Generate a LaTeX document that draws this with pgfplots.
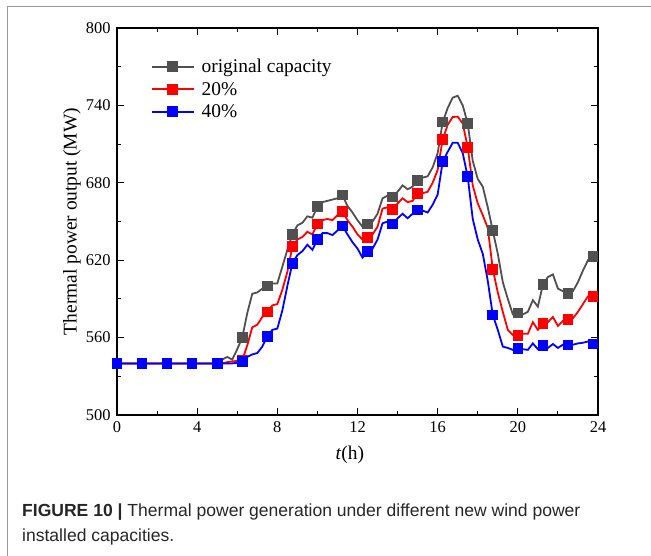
\documentclass[border=0pt]{standalone}
\usepackage{fontspec}
\setmainfont{Liberation Serif}
\newfontfamily\capfont{Liberation Sans}
\usepackage{pgfplots}
\usepackage{pgfplotstable}
\pgfplotsset{compat=1.18}
\definecolor{cgray}{RGB}{80,80,80}
\definecolor{cred}{RGB}{255,0,0}
\definecolor{cblue}{RGB}{0,0,255}
\pgfplotstableread{
t orig p20 p40
0 540 540 540
0.25 540 540 540
0.5 540 540 540
0.75 540 540 540
1.0 540 540 540
1.25 540 540 540
1.5 540 540 540
1.75 540 540 540
2.0 540 540 540
2.25 540 540 540
2.5 540 540 540
2.75 540 540 540
3.0 540 540 540
3.25 540 540 540
3.5 540 540 540
3.75 540 540 540
4.0 540 540 540
4.25 540 540 540
4.5 540 540 540
4.75 540 540 540
5.0 540 540 540
5.25 543 540 540
5.5 545 541 540
5.75 543 541.5 540
6.0 551 542 540.5
6.25 560 542.6 541.3
6.5 579 554 545
6.75 594 568 547
7.0 595 570 548
7.25 598 576 553
7.5 600 580 561
7.75 602 585 566
8.0 602 586 567
8.25 615 597 581
8.5 628 611 600
8.75 640 630.5 617.6
9.0 647 636 624
9.25 649 638 627
9.5 654 642 632
9.75 653 640 628
10.0 661.5 648 636
10.25 665 651 641
10.5 666 652 641
10.75 667 651 639.5
11.0 668 655 643
11.25 670.5 657.6 646.5
11.5 662 651 640
11.75 657 646 634
12.0 651 640 629
12.25 646 636 622
12.5 648 637.7 626.6
12.75 650 640 629
13.0 656 646 636
13.25 668 660 648.6
13.5 670 661 650
13.75 669 659.4 648
14.0 673 664 652.5
14.25 678 668 656
14.5 675 665 652.5
14.75 677 666 656
15.0 682 671.8 659
15.25 684 672 658.4
15.5 685 673 657
15.75 692 680 663
16.0 703 690 671
16.25 727 713.7 696.4
16.5 738 725 704
16.75 746 731 711
17.0 747.5 731.3 711
17.25 740 726 703
17.5 726 707.5 684.7
17.75 697 678 652
18.0 683 664 636
18.25 677 655 625
18.5 661 645 604
18.75 643 613 577.5
19.0 625 595 566
19.25 603 580 553
19.5 590 566 552
19.75 578 562 550.5
20.0 579 561.8 551.4
20.25 578 563 551
20.5 580 563 550.5
20.75 589 572 555.5
21.0 584 566 551
21.25 601 571 553.7
21.5 607 572 552
21.75 609 576 555
22.0 598 569 552
22.25 596 573 554.5
22.5 594 574.2 554.3
22.75 596 575 554.5
23.0 603 580 555.5
23.25 612 586 556
23.5 620 592 557
23.75 623 591.7 555
}\datatable
\begin{document}
\begin{tikzpicture}
\path[use as bounding box] (0,0) rectangle (651bp,-556bp);
\draw[line width=0.9bp, color=black!40] (7bp,-556bp) -- (7bp,-6bp) -- (651bp,-6bp);
\begin{axis}[
  at={(117bp,-415bp)}, anchor=south west,
  scale only axis, width=481bp, height=387bp,
  xmin=0, xmax=24, ymin=500, ymax=800,
  xtick={0,4,...,24}, ytick={500,560,...,800},
  minor x tick num=1, minor y tick num=1,
  tick align=inside, major tick length=7bp, minor tick length=4bp,
  axis line style={line width=1.3bp},
  every tick/.style={line width=1.1bp, black},
  /pgf/number format/assume math mode=true,
  /pgf/number format/1000 sep={},
  tick label style={font=\fontsize{16.5}{19}\selectfont},
  xticklabel style={yshift=-3bp},
  yticklabel style={xshift=-3bp},
  every axis x label/.style={at={(axis description cs:0.484,-0.103)}, anchor=center},
  every axis y label/.style={at={(axis description cs:-0.0936,0.5)}, rotate=90, anchor=center},
  label style={font=\fontsize{19.5}{23}\selectfont},
  xlabel={\textit{t}(h)},
  ylabel={Thermal power output (MW)},
  legend style={at={(rel axis cs:0.07,0.925)}, anchor=north west, draw=none, fill=none,
    font=\fontsize{19.5}{23}\selectfont, row sep=4bp, inner sep=0bp,
    /tikz/every odd column/.append style={column sep=5bp}},
  legend cell align=left,
  legend image code/.code={\draw[mark repeat=2,mark phase=2] plot coordinates {(0bp,0bp) (21bp,0bp) (42bp,0bp)};},
]
\addplot[color=cgray, line width=1.8bp, mark=square*, mark size=4.8bp, mark repeat=5, mark options={fill=cgray, draw=cgray, line width=0pt}] table[x=t, y=orig] {\datatable};
\addlegendentry{original capacity}
\addplot[color=cred, line width=1.8bp, mark=square*, mark size=4.8bp, mark repeat=5, mark options={fill=cred, draw=cred, line width=0pt}] table[x=t, y=p20] {\datatable};
\addlegendentry{20\%}
\addplot[color=cblue, line width=1.8bp, mark=square*, mark size=4.8bp, mark repeat=5, mark options={fill=cblue, draw=cblue, line width=0pt}] table[x=t, y=p40] {\datatable};
\addlegendentry{40\%}
\end{axis}
\node[anchor=base west, inner sep=0pt, font=\capfont\fontsize{17.6}{20}\selectfont, text=black!85] at (22bp,-516bp) {\textbf{FIGURE 10 |} Thermal power generation under different new wind power};
\node[anchor=base west, inner sep=0pt, font=\capfont\fontsize{17.6}{20}\selectfont, text=black!85] at (22bp,-541bp) {installed capacities.};
\end{tikzpicture}
\end{document}
